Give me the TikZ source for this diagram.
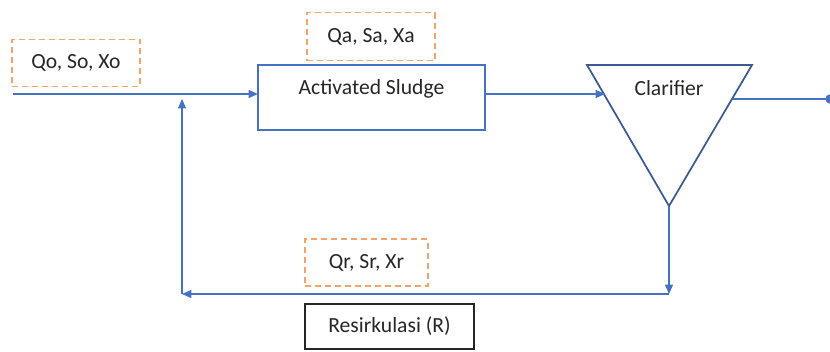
\documentclass[tikz,border=0pt]{standalone}
\usepackage{fontspec}
\setmainfont{Carlito}
\usetikzlibrary{arrows.meta}
\definecolor{flow}{HTML}{4472C4}
\definecolor{tri}{HTML}{3B5A94}
\definecolor{dashc}{HTML}{F4A46A}
\definecolor{txt}{HTML}{262626}
\begin{document}
\begin{tikzpicture}[x=0.75pt,y=-0.75pt,
  every node/.style={font=\fontsize{16.2}{19}\selectfont, text=txt},
  lbl/.style={draw=dashc, dashed, dash pattern=on 4.5pt off 3pt, line width=1.2pt, inner sep=0pt},
  conn/.style={draw=flow, line width=0.9pt, -{Triangle[length=7pt,width=6pt]}},
  plain/.style={draw=flow, line width=0.9pt}]
\useasboundingbox (0,0) rectangle (830,351);
% labels
\node[lbl, minimum width=96pt, minimum height=35pt] (qo) at (76,63) {Qo, So, Xo};
\node[lbl, minimum width=96pt, minimum height=36pt] (qa) at (371,36.5) {Qa, Sa, Xa};
\node[lbl, minimum width=92pt, minimum height=35pt] (qr) at (366.5,262.5) {Qr, Sr, Xr};
% activated sludge box
\coordinate (asnw) at (258,65);
\coordinate (asse) at (485,130);
\draw[color=flow, line width=1.3pt] (asnw) rectangle (asse);
\node[inner sep=0pt, minimum width=170pt, minimum height=48pt] (as) at (371.5,97.5) {};
\node (ast) at (371.5,89) {Activated Sludge};
% clarifier
\coordinate (tl) at (587,65);
\coordinate (tr) at (752,65);
\coordinate (ap) at (669,206);
\draw[tri, line width=1.3pt, line join=miter] (tl) -- (tr) -- (ap) -- cycle;
\node (cl) at (669,88) {Clarifier};
% resirkulasi
\node[draw=black!85, line width=1.2pt, minimum width=127pt, minimum height=34pt, inner sep=0pt] (res) at (389.5,326.5) {Resirkulasi (R)};
% connectors
\coordinate (in0) at (13,94);
\draw[conn] (in0) -- (as.west |- in0);
\coordinate (cin) at (605,94);
\draw[conn] (as.east |- cin) -- (cin);
\coordinate (o0) at (733,99);
\coordinate (o1) at (830,99);
\draw[plain] (o0) -- (o1);
\fill[flow] (o1) circle (3.5pt);
\coordinate (b1) at (669,294);
\coordinate (b2) at (182,294);
\coordinate (up) at (182,99);
\draw[conn] (ap) -- (b1);
\draw[conn] (b1) -- (b2);
\draw[conn] (b2) -- (up);
\end{tikzpicture}
\end{document}
